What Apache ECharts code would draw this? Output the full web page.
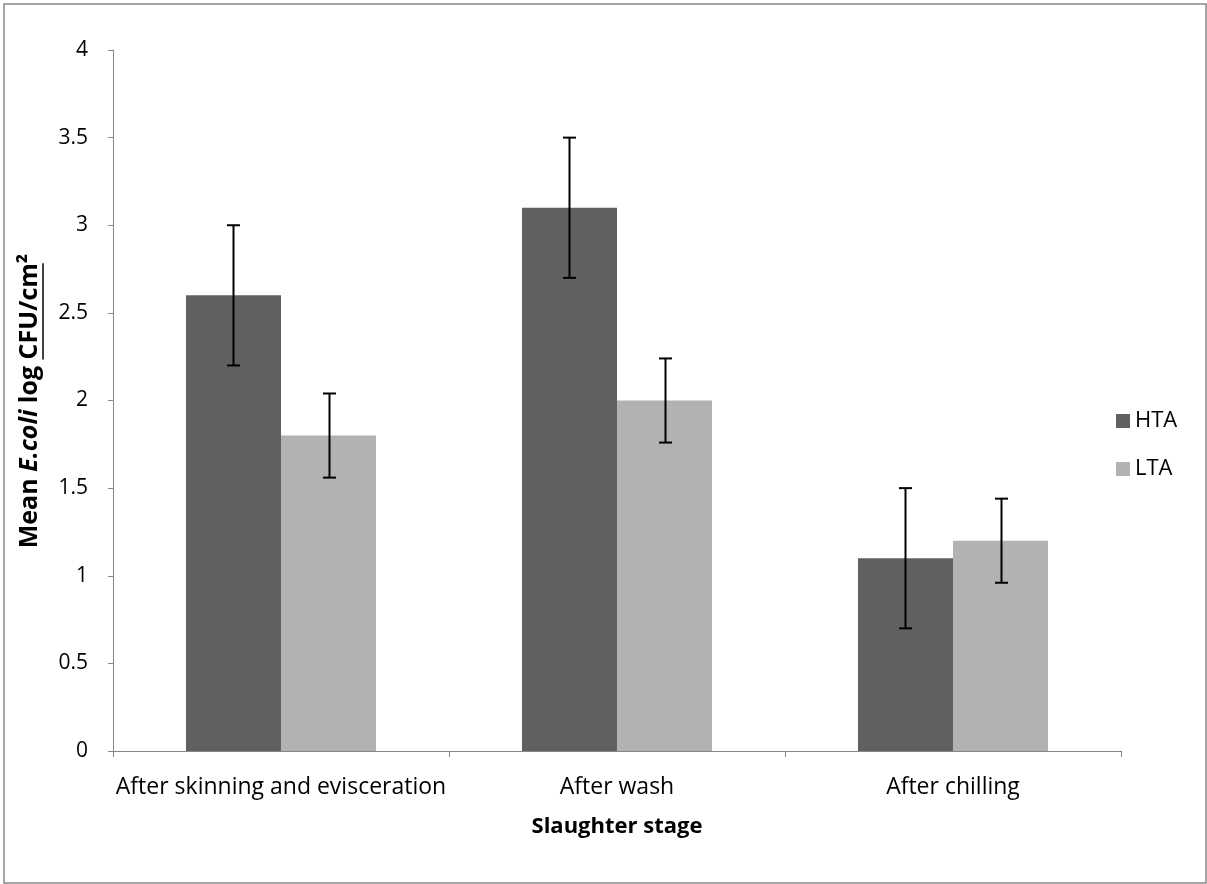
<!DOCTYPE html>
<html>
<head>
<meta charset="utf-8">
<script src="https://cdn.jsdelivr.net/npm/echarts@6/dist/echarts.min.js"></script>
<style>
html,body{margin:0;padding:0;background:#fff;}
#chart{width:1207px;height:884px;}
</style>
</head>
<body>
<div id="chart"></div>
<script>
// ---- data ----
var categories = ['After skinning and evisceration', 'After wash', 'After chilling'];
var seriesNames = ['HTA', 'LTA'];
var htaMeans = [2.6, 3.1, 1.1];
var htaErrors = [0.4, 0.4, 0.4];
var ltaMeans = [1.8, 2.0, 1.2];
var ltaErrors = [0.24, 0.24, 0.24];
var yMin = 0, yMax = 4, yInterval = 0.5;

var FONT = "'Open Sans', sans-serif";
var FS_CAT = 23, FS_TICK = 21, FS_LEG = 22, FS_XNAME = 22, FS_YNAME = 25;
var BAR_CAT_GAP = 0.4345;
var colors = ['#606060', '#b2b2b2'];

var chart = echarts.init(document.getElementById('chart'), null, {renderer: 'canvas'});

function errorSeries(means, errs, sideIndex) {
  var data = means.map(function (m, i) { return [i, m - errs[i], m + errs[i]]; });
  return {
    type: 'custom',
    name: seriesNames[sideIndex] + ' error',
    silent: true,
    z: 10,
    data: data,
    encode: {x: 0, y: [1, 2]},
    renderItem: function (params, api) {
      var idx = api.value(0);
      var lo = api.coord([idx, api.value(1)]);
      var hi = api.coord([idx, api.value(2)]);
      var band = api.size([1, 0])[0];
      var bw = band * (1 - BAR_CAT_GAP) / 2;
      var x = lo[0] + (sideIndex === 0 ? -bw / 2 : bw / 2);
      x = Math.round(x) + 0.5;
      var cap = 6.5;
      var st = {stroke: '#000', lineWidth: 2};
      return {
        type: 'group',
        children: [
          {type: 'line', shape: {x1: x, y1: lo[1], x2: x, y2: hi[1]}, style: st},
          {type: 'line', shape: {x1: x - cap, y1: lo[1], x2: x + cap, y2: lo[1]}, style: st},
          {type: 'line', shape: {x1: x - cap, y1: hi[1], x2: x + cap, y2: hi[1]}, style: st}
        ]
      };
    }
  };
}

// y-axis title pieces measured for underline placement
var mc = document.createElement('canvas').getContext('2d');
function mw(txt, italic) {
  mc.font = (italic ? 'italic ' : '') + 'bold ' + FS_YNAME + 'px ' + FONT;
  return mc.measureText(txt).width;
}
var p1 = 'Mean ', p2 = 'E.coli', p3 = ' log ', p4 = 'CFU/cm', p5 = '²';
var w1 = mw(p1), w2 = mw(p2, true), w3 = mw(p3), w4 = mw(p4), w5 = mw(p5);
var W = w1 + w2 + w3 + w4 + w5;
var ulStart = -W / 2 + w1 + w2 + w3;

var option = {
  animation: false,
  backgroundColor: '#fff',
  grid: {left: 113, top: 50, right: 86, bottom: 133, containLabel: false},
  legend: {
    orient: 'vertical',
    left: 1116,
    top: 408,
    itemWidth: 14,
    itemHeight: 14,
    itemGap: 22,
    icon: 'rect',
    padding: 0,
    data: seriesNames,
    textStyle: {fontFamily: FONT, fontSize: FS_LEG, color: '#000', lineHeight: 26}
  },
  xAxis: {
    type: 'category',
    data: categories,
    axisLine: {lineStyle: {color: '#868686', width: 1}},
    axisTick: {show: true, length: 6, lineStyle: {color: '#868686'}},
    axisLabel: {fontFamily: FONT, fontSize: FS_CAT, color: '#000', margin: 25, interval: 0},
    name: 'Slaughter stage',
    nameLocation: 'middle',
    nameGap: 65,
    nameTextStyle: {fontFamily: FONT, fontSize: FS_XNAME, fontWeight: 'bold', color: '#000'}
  },
  yAxis: {
    type: 'value',
    min: yMin,
    max: yMax,
    interval: yInterval,
    axisLine: {show: true, lineStyle: {color: '#868686', width: 1}},
    axisTick: {show: true, length: 5, inside: false, lineStyle: {color: '#868686'}},
    splitLine: {show: false},
    axisLabel: {fontFamily: FONT, fontSize: FS_TICK, color: '#000', margin: 25}
  },
  series: [
    {name: 'HTA', type: 'bar', data: htaMeans, barGap: '0%', barCategoryGap: (BAR_CAT_GAP * 100) + '%', itemStyle: {color: colors[0]}},
    {name: 'LTA', type: 'bar', data: ltaMeans, barGap: '0%', barCategoryGap: (BAR_CAT_GAP * 100) + '%', itemStyle: {color: colors[1]}},
    errorSeries(htaMeans, htaErrors, 0),
    errorSeries(ltaMeans, ltaErrors, 1)
  ],
  graphic: [
    {type: 'rect', shape: {x: 4, y: 4, width: 1202, height: 879}, style: {fill: 'none', stroke: '#898989', lineWidth: 1.5}, silent: true, z: -1},
    {
      type: 'group',
      x: 30, y: 401,
      rotation: Math.PI / 2,
      children: [
        {
          type: 'text',
          x: 0, y: 0,
          style: {
            text: '{b|' + p1 + '}{i|' + p2 + '}{b|' + p3 + p4 + p5 + '}',
            align: 'center',
            verticalAlign: 'middle',
            fill: '#000',
            font: 'bold ' + FS_YNAME + 'px ' + FONT,
            rich: {
              b: {fontFamily: FONT, fontSize: FS_YNAME, fontWeight: 'bold', fill: '#000'},
              i: {fontFamily: FONT, fontSize: FS_YNAME, fontWeight: 'bold', fontStyle: 'italic', fill: '#000'}
            }
          }
        },
        {
          type: 'line',
          shape: {x1: ulStart, y1: 13, x2: ulStart + w4, y2: 13},
          style: {stroke: '#000', lineWidth: 1.5}
        }
      ]
    }
  ]
};
chart.setOption(option);
</script>
</body>
</html>
